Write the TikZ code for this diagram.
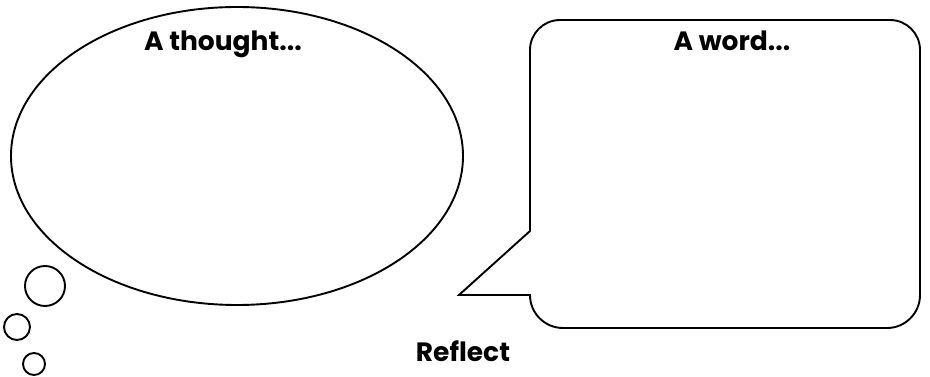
\documentclass[tikz,border=0pt]{standalone}
\usepackage{fontspec}
\setmainfont{Poppins}
\usetikzlibrary{shapes.geometric}
\begin{document}
\begin{tikzpicture}[x=1pt,y=1pt,
  outline/.style={draw=black,line width=1.9pt},
  label/.style={anchor=base,font=\bfseries\fontsize{26.5}{30}\selectfont,inner sep=0pt}]
\useasboundingbox (0,0) rectangle (930,377);
% thought bubble
\node[outline,ellipse,minimum width=452pt,minimum height=298pt,inner sep=0pt] (thought) at (237,221) {};
\node[outline,circle,minimum size=40pt,inner sep=0pt] (c1) at (45,91) {};
\node[outline,circle,minimum size=26pt,inner sep=0pt] (c2) at (17,50) {};
\node[outline,circle,minimum size=22pt,inner sep=0pt] (c3) at (34,13) {};
% speech bubble
\coordinate (tailtop) at (530,146);
\coordinate (tip) at (459,82);
\draw[outline,line join=miter] (tailtop) -- (530,327) arc[start angle=180,end angle=90,radius=30]
  -- (890,357) arc[start angle=90,end angle=0,radius=30]
  -- (920,82) arc[start angle=0,end angle=-90,radius=33]
  -- (563,49) arc[start angle=270,end angle=180,radius=33]
  -- (tip) -- cycle;
% texts
\node[label] (t1) at (223,326) {A thought...};
\node[label] (t2) at (732,326) {A word...};
\node[label] (t3) at (463,15) {Reflect};
\end{tikzpicture}
\end{document}
